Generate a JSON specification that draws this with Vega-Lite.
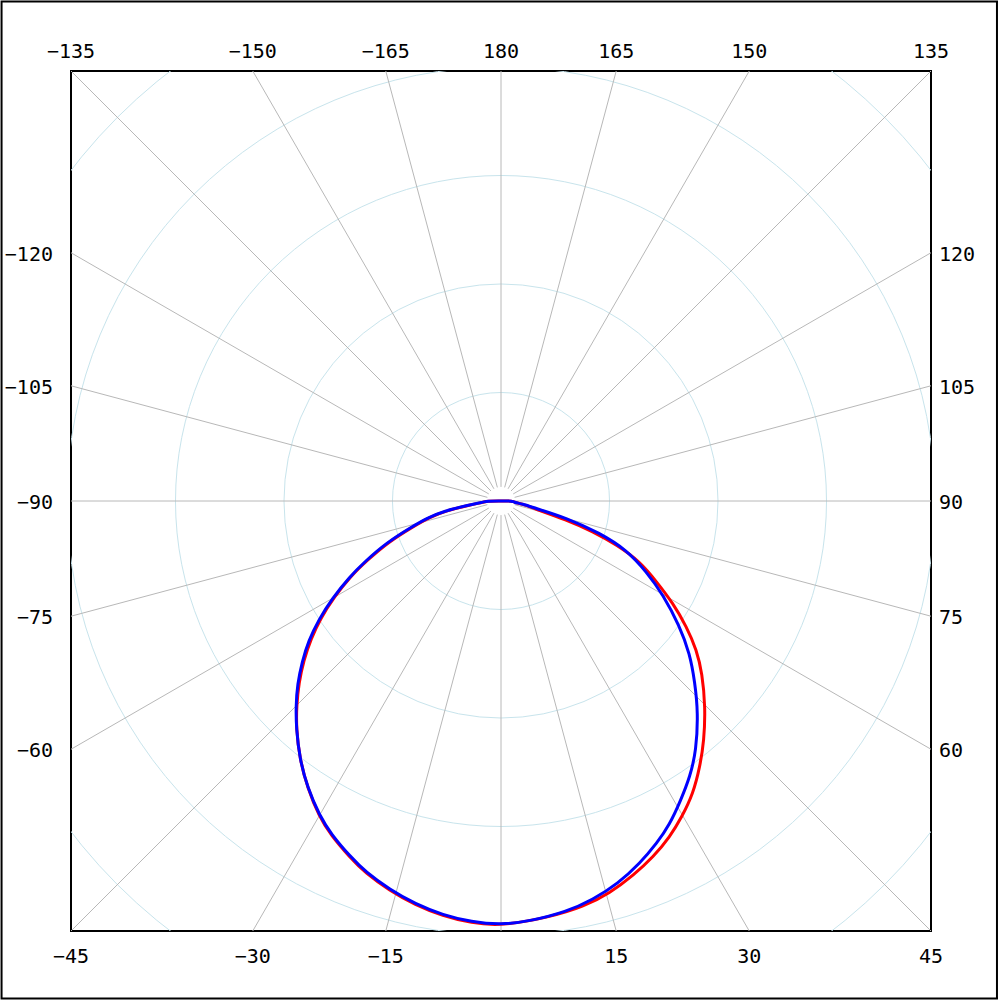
{
  "$schema": "https://vega.github.io/schema/vega-lite/v6.json",
  "width": 860,
  "height": 860,
  "autosize": {"type": "none"},
  "padding": {"left": 71, "top": 71, "right": 69, "bottom": 69},
  "background": "white",
  "config": {"view": {"stroke": "#000000", "strokeWidth": 2}},
  "datasets": {
    "rings": [{"ring": 100}, {"ring": 200}, {"ring": 300}, {"ring": 400}, {"ring": 500}],
    "spokes": [{"angle": 0}, {"angle": 15}, {"angle": 30}, {"angle": 45}, {"angle": 60}, {"angle": 75}, {"angle": 90}, {"angle": 105}, {"angle": 120}, {"angle": 135}, {"angle": 150}, {"angle": 165}, {"angle": 180}, {"angle": 195}, {"angle": 210}, {"angle": 225}, {"angle": 240}, {"angle": 255}, {"angle": 270}, {"angle": 285}, {"angle": 300}, {"angle": 315}, {"angle": 330}, {"angle": 345}],
    "labels": [{"angle": -135}, {"angle": -150}, {"angle": -165}, {"angle": 180}, {"angle": 165}, {"angle": 150}, {"angle": 135}, {"angle": -120}, {"angle": -105}, {"angle": -90}, {"angle": -75}, {"angle": -60}, {"angle": 120}, {"angle": 105}, {"angle": 90}, {"angle": 75}, {"angle": 60}, {"angle": -45}, {"angle": -30}, {"angle": -15}, {"angle": 15}, {"angle": 30}, {"angle": 45}],
    "curves": [
      {"plane": "C0-C180", "angle": -180, "value": 0},
      {"plane": "C0-C180", "angle": -90, "value": 12.9},
      {"plane": "C0-C180", "angle": -86, "value": 15.7},
      {"plane": "C0-C180", "angle": -83, "value": 27.6},
      {"plane": "C0-C180", "angle": -80, "value": 51.6},
      {"plane": "C0-C180", "angle": -77, "value": 68.2},
      {"plane": "C0-C180", "angle": -74, "value": 82.9},
      {"plane": "C0-C180", "angle": -70, "value": 110.6},
      {"plane": "C0-C180", "angle": -66, "value": 135.5},
      {"plane": "C0-C180", "angle": -63.4, "value": 155},
      {"plane": "C0-C180", "angle": -60, "value": 177.9},
      {"plane": "C0-C180", "angle": -57, "value": 198.2},
      {"plane": "C0-C180", "angle": -54, "value": 216.6},
      {"plane": "C0-C180", "angle": -51, "value": 234.1},
      {"plane": "C0-C180", "angle": -48, "value": 250.7},
      {"plane": "C0-C180", "angle": -45, "value": 266.4},
      {"plane": "C0-C180", "angle": -42, "value": 282},
      {"plane": "C0-C180", "angle": -38, "value": 301.4},
      {"plane": "C0-C180", "angle": -34, "value": 318.9},
      {"plane": "C0-C180", "angle": -30, "value": 335.5},
      {"plane": "C0-C180", "angle": -27, "value": 345.6},
      {"plane": "C0-C180", "angle": -23, "value": 356.7},
      {"plane": "C0-C180", "angle": -20, "value": 365},
      {"plane": "C0-C180", "angle": -16, "value": 373.3},
      {"plane": "C0-C180", "angle": -12, "value": 380.6},
      {"plane": "C0-C180", "angle": -8, "value": 386.2},
      {"plane": "C0-C180", "angle": -4, "value": 389.9},
      {"plane": "C0-C180", "angle": 0, "value": 391.7},
      {"plane": "C0-C180", "angle": 6.7, "value": 386.2},
      {"plane": "C0-C180", "angle": 11.5, "value": 381.6},
      {"plane": "C0-C180", "angle": 15.5, "value": 375.1},
      {"plane": "C0-C180", "angle": 19.5, "value": 365.9},
      {"plane": "C0-C180", "angle": 23.2, "value": 356.7},
      {"plane": "C0-C180", "angle": 26.7, "value": 346.5},
      {"plane": "C0-C180", "angle": 29.8, "value": 335.5},
      {"plane": "C0-C180", "angle": 33.3, "value": 322.6},
      {"plane": "C0-C180", "angle": 36.8, "value": 306},
      {"plane": "C0-C180", "angle": 40.3, "value": 289.4},
      {"plane": "C0-C180", "angle": 44.8, "value": 267.3},
      {"plane": "C0-C180", "angle": 49.4, "value": 244.2},
      {"plane": "C0-C180", "angle": 52.7, "value": 226.7},
      {"plane": "C0-C180", "angle": 55.9, "value": 206.5},
      {"plane": "C0-C180", "angle": 59.3, "value": 184.3},
      {"plane": "C0-C180", "angle": 62.6, "value": 161.3},
      {"plane": "C0-C180", "angle": 66.4, "value": 140.1},
      {"plane": "C0-C180", "angle": 69.2, "value": 114.3},
      {"plane": "C0-C180", "angle": 71.6, "value": 89.4},
      {"plane": "C0-C180", "angle": 73.9, "value": 62.7},
      {"plane": "C0-C180", "angle": 77.3, "value": 30.4},
      {"plane": "C0-C180", "angle": 82, "value": 20.3},
      {"plane": "C0-C180", "angle": 85, "value": 11.1},
      {"plane": "C0-C180", "angle": 90, "value": 11.1},
      {"plane": "C0-C180", "angle": 180, "value": 0},
      {"plane": "C90-C270", "angle": -180, "value": 0},
      {"plane": "C90-C270", "angle": -90, "value": 12.9},
      {"plane": "C90-C270", "angle": -86, "value": 16.6},
      {"plane": "C90-C270", "angle": -83, "value": 29.5},
      {"plane": "C90-C270", "angle": -80, "value": 53.5},
      {"plane": "C90-C270", "angle": -77, "value": 70},
      {"plane": "C90-C270", "angle": -74, "value": 84.8},
      {"plane": "C90-C270", "angle": -70, "value": 112.4},
      {"plane": "C90-C270", "angle": -66, "value": 137.3},
      {"plane": "C90-C270", "angle": -63.4, "value": 156.1},
      {"plane": "C90-C270", "angle": -60, "value": 179.7},
      {"plane": "C90-C270", "angle": -57, "value": 200},
      {"plane": "C90-C270", "angle": -54, "value": 219.4},
      {"plane": "C90-C270", "angle": -51, "value": 236},
      {"plane": "C90-C270", "angle": -48, "value": 252.5},
      {"plane": "C90-C270", "angle": -45, "value": 267.3},
      {"plane": "C90-C270", "angle": -42, "value": 282},
      {"plane": "C90-C270", "angle": -38, "value": 301.4},
      {"plane": "C90-C270", "angle": -34, "value": 318.9},
      {"plane": "C90-C270", "angle": -30, "value": 334.6},
      {"plane": "C90-C270", "angle": -27, "value": 344.7},
      {"plane": "C90-C270", "angle": -23, "value": 355.8},
      {"plane": "C90-C270", "angle": -20, "value": 364.1},
      {"plane": "C90-C270", "angle": -16, "value": 372.4},
      {"plane": "C90-C270", "angle": -12, "value": 379.7},
      {"plane": "C90-C270", "angle": -8, "value": 385.3},
      {"plane": "C90-C270", "angle": -4, "value": 388.9},
      {"plane": "C90-C270", "angle": 0, "value": 390.8},
      {"plane": "C90-C270", "angle": 4, "value": 388},
      {"plane": "C90-C270", "angle": 9, "value": 383.4},
      {"plane": "C90-C270", "angle": 13, "value": 377},
      {"plane": "C90-C270", "angle": 17, "value": 368.7},
      {"plane": "C90-C270", "angle": 21, "value": 357.6},
      {"plane": "C90-C270", "angle": 24.5, "value": 346.5},
      {"plane": "C90-C270", "angle": 27.5, "value": 336.4},
      {"plane": "C90-C270", "angle": 31, "value": 321.7},
      {"plane": "C90-C270", "angle": 34.5, "value": 307.8},
      {"plane": "C90-C270", "angle": 38, "value": 292.2},
      {"plane": "C90-C270", "angle": 43, "value": 266.4},
      {"plane": "C90-C270", "angle": 47, "value": 244.2},
      {"plane": "C90-C270", "angle": 51, "value": 224},
      {"plane": "C90-C270", "angle": 55, "value": 200.9},
      {"plane": "C90-C270", "angle": 60, "value": 172.4},
      {"plane": "C90-C270", "angle": 64, "value": 149.3},
      {"plane": "C90-C270", "angle": 68.7, "value": 124.4},
      {"plane": "C90-C270", "angle": 72, "value": 95.9},
      {"plane": "C90-C270", "angle": 75.5, "value": 62.7},
      {"plane": "C90-C270", "angle": 78.5, "value": 30.4},
      {"plane": "C90-C270", "angle": 82, "value": 20.3},
      {"plane": "C90-C270", "angle": 85, "value": 11.1},
      {"plane": "C90-C270", "angle": 90, "value": 11.1},
      {"plane": "C90-C270", "angle": 180, "value": 0}
    ]
  },
  "layer": [
    {
      "data": {"name": "rings"},
      "mark": {"type": "arc", "theta": 0, "theta2": 6.2832, "filled": false, "color": "#c8e4ec", "strokeWidth": 1, "clip": true},
      "encoding": {
        "x": {"datum": 0, "type": "quantitative", "scale": {"domain": [-396.3, 396.3], "nice": false, "zero": false}, "axis": null},
        "y": {"datum": 0, "type": "quantitative", "scale": {"domain": [-396.3, 396.3], "nice": false, "zero": false}, "axis": null},
        "radius": {"field": "ring", "type": "quantitative", "stack": null, "scale": {"type": "linear", "domain": [0, 396.3], "range": [0, 430], "zero": true}, "legend": null}
      }
    },
    {
      "data": {"name": "spokes"},
      "transform": [
        {"calculate": "13*sin(datum.angle*PI/180)", "as": "sx"},
        {"calculate": "-13*cos(datum.angle*PI/180)", "as": "sy"},
        {"calculate": "800*sin(datum.angle*PI/180)", "as": "ex"},
        {"calculate": "-800*cos(datum.angle*PI/180)", "as": "ey"}
      ],
      "mark": {"type": "rule", "color": "#b8b8b8", "strokeWidth": 1, "clip": true},
      "encoding": {
        "x": {"field": "sx", "type": "quantitative"},
        "y": {"field": "sy", "type": "quantitative"},
        "x2": {"field": "ex"},
        "y2": {"field": "ey"}
      }
    },
    {
      "data": {"name": "curves"},
      "transform": [
        {"filter": "datum.plane === 'C0-C180'"},
        {"calculate": "datum.value*sin(datum.angle*PI/180)", "as": "px"},
        {"calculate": "-datum.value*cos(datum.angle*PI/180)", "as": "py"}
      ],
      "mark": {"type": "line", "color": "#ff0000", "strokeWidth": 3, "interpolate": "basis"},
      "encoding": {
        "x": {"field": "px", "type": "quantitative"},
        "y": {"field": "py", "type": "quantitative"},
        "order": {"field": "angle", "type": "quantitative"}
      }
    },
    {
      "data": {"name": "curves"},
      "transform": [
        {"filter": "datum.plane === 'C90-C270'"},
        {"calculate": "datum.value*sin(datum.angle*PI/180)", "as": "px"},
        {"calculate": "-datum.value*cos(datum.angle*PI/180)", "as": "py"}
      ],
      "mark": {"type": "line", "color": "#0000ff", "strokeWidth": 3, "interpolate": "basis"},
      "encoding": {
        "x": {"field": "px", "type": "quantitative"},
        "y": {"field": "py", "type": "quantitative"},
        "order": {"field": "angle", "type": "quantitative"}
      }
    },
    {
      "data": {"name": "labels"},
      "transform": [
        {"calculate": "sin(datum.angle*PI/180)", "as": "s"},
        {"calculate": "-cos(datum.angle*PI/180)", "as": "c"},
        {"calculate": "max(abs(datum.s), abs(datum.c))", "as": "m"},
        {"calculate": "396.3*datum.s/datum.m", "as": "lx"},
        {"calculate": "396.3*datum.c/datum.m", "as": "ly"},
        {"filter": "datum.ly > 396"}
      ],
      "mark": {"type": "text", "font": "DejaVu Sans Mono", "fontSize": 20, "color": "#000000", "align": "center", "baseline": "middle", "dy": -19, "clip": false},
      "encoding": {
        "x": {"field": "lx", "type": "quantitative"},
        "y": {"field": "ly", "type": "quantitative"},
        "text": {"field": "angle", "type": "quantitative", "format": "d"}
      }
    },
    {
      "data": {"name": "labels"},
      "transform": [
        {"calculate": "sin(datum.angle*PI/180)", "as": "s"},
        {"calculate": "-cos(datum.angle*PI/180)", "as": "c"},
        {"calculate": "max(abs(datum.s), abs(datum.c))", "as": "m"},
        {"calculate": "396.3*datum.s/datum.m", "as": "lx"},
        {"calculate": "396.3*datum.c/datum.m", "as": "ly"},
        {"filter": "datum.ly < -396"}
      ],
      "mark": {"type": "text", "font": "DejaVu Sans Mono", "fontSize": 20, "color": "#000000", "align": "center", "baseline": "middle", "dy": 26, "clip": false},
      "encoding": {
        "x": {"field": "lx", "type": "quantitative"},
        "y": {"field": "ly", "type": "quantitative"},
        "text": {"field": "angle", "type": "quantitative", "format": "d"}
      }
    },
    {
      "data": {"name": "labels"},
      "transform": [
        {"calculate": "sin(datum.angle*PI/180)", "as": "s"},
        {"calculate": "-cos(datum.angle*PI/180)", "as": "c"},
        {"calculate": "max(abs(datum.s), abs(datum.c))", "as": "m"},
        {"calculate": "396.3*datum.s/datum.m", "as": "lx"},
        {"calculate": "396.3*datum.c/datum.m", "as": "ly"},
        {"filter": "datum.lx < -396 && abs(datum.ly) < 396"}
      ],
      "mark": {"type": "text", "font": "DejaVu Sans Mono", "fontSize": 20, "color": "#000000", "align": "right", "baseline": "middle", "dx": -18, "dy": 2, "clip": false},
      "encoding": {
        "x": {"field": "lx", "type": "quantitative"},
        "y": {"field": "ly", "type": "quantitative"},
        "text": {"field": "angle", "type": "quantitative", "format": "d"}
      }
    },
    {
      "data": {"name": "labels"},
      "transform": [
        {"calculate": "sin(datum.angle*PI/180)", "as": "s"},
        {"calculate": "-cos(datum.angle*PI/180)", "as": "c"},
        {"calculate": "max(abs(datum.s), abs(datum.c))", "as": "m"},
        {"calculate": "396.3*datum.s/datum.m", "as": "lx"},
        {"calculate": "396.3*datum.c/datum.m", "as": "ly"},
        {"filter": "datum.lx > 396 && abs(datum.ly) < 396"}
      ],
      "mark": {"type": "text", "font": "DejaVu Sans Mono", "fontSize": 20, "color": "#000000", "align": "left", "baseline": "middle", "dx": 8, "dy": 2, "clip": false},
      "encoding": {
        "x": {"field": "lx", "type": "quantitative"},
        "y": {"field": "ly", "type": "quantitative"},
        "text": {"field": "angle", "type": "quantitative", "format": "d"}
      }
    },
    {
      "data": {"values": [{}]},
      "mark": {"type": "rect", "filled": false, "color": "#000000", "strokeWidth": 2, "clip": false},
      "encoding": {
        "x": {"datum": -460.3, "type": "quantitative"},
        "x2": {"datum": 457.1},
        "y": {"datum": 460.3, "type": "quantitative"},
        "y2": {"datum": -458.5}
      }
    }
  ]
}
